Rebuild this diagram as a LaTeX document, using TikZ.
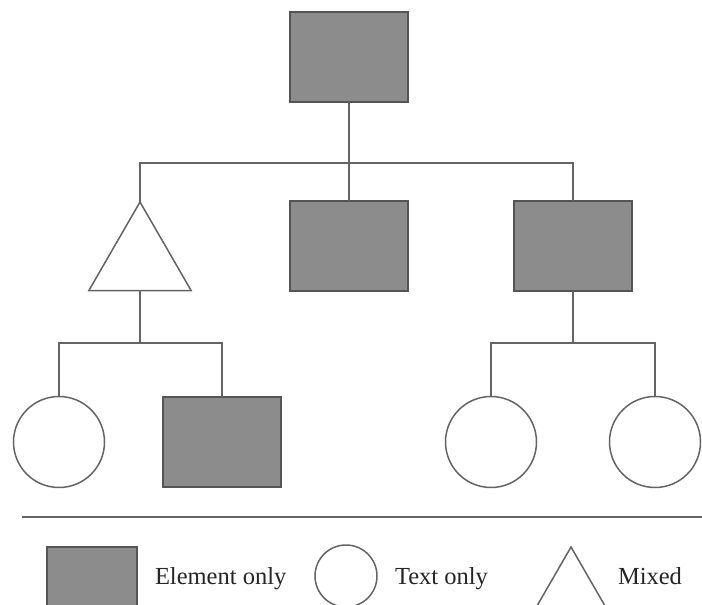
\documentclass[tikz,border=0pt]{standalone}
\usepackage{fontspec}
\setmainfont{Liberation Serif}
\usetikzlibrary{shapes.geometric}
\definecolor{elemfill}{RGB}{140,140,140}
\definecolor{edgegray}{RGB}{85,85,85}
\definecolor{linegray}{RGB}{100,100,100}
\begin{document}
\begin{tikzpicture}[x=0.5pt,y=-0.5pt,
  every node/.style={inner sep=0pt, outer sep=0pt},
  elembox/.style={rectangle, draw=edgegray, fill=elemfill, line width=0.75pt,
    minimum width=59pt, minimum height=45pt},
  textcirc/.style={circle, draw=linegray, fill=white, line width=0.75pt,
    minimum size=45.5pt},
  mixedtri/.style={regular polygon, regular polygon sides=3, draw=linegray,
    fill=white, line width=0.75pt, minimum size=59pt},
  link/.style={draw=linegray, line width=0.75pt},
  legendtext/.style={anchor=base west, font=\fontsize{12.25}{14}\selectfont, text=black!85}
]
\clip (0,0) rectangle (702,605);
\fill[white] (0,0) rectangle (702,605);

% tree nodes
\node[elembox]  (root)  at (349,57)  {};
\node[mixedtri] (mix)   at (140,261) {};
\node[elembox]  (mid)   at (349,246) {};
\node[elembox]  (right) at (573,246) {};
\node[textcirc] (t1)    at (59,442)  {};
\node[elembox]  (e4)    at (222,442) {};
\node[textcirc] (t2)    at (491,442) {};
\node[textcirc] (t3)    at (655,442) {};

% branch junctions
\coordinate (j1) at (349,163);
\coordinate (j2) at (140,343);
\coordinate (j3) at (573,343);

% connectors
\draw[link] (root.south) -- (j1);
\draw[link] (j1) -- (mid.north);
\draw[link] (mix.corner 1) |- (j1) -| (right.north);
\draw[link] (mix.south) -- (j2);
\draw[link] (t1.north) |- (j2) -| (e4.north);
\draw[link] (right.south) -- (j3);
\draw[link] (t2.north) |- (j3) -| (t3.north);

% separator above the key
\coordinate (sepL) at (22,517);
\coordinate (sepR) at (702,517);
\draw[link] (sepL) -- (sepR);

% key
\node[elembox, minimum width=45pt] (kbox) at (92,592) {};
\node[legendtext] (klab1) at (155,584) {Element only};
\node[circle, draw=linegray, line width=0.75pt, minimum size=31pt] (kcirc) at (346,576) {};
\node[legendtext] (klab2) at (395,584) {Text only};
\node[mixedtri] (ktri) at (571,606) {};
\node[legendtext] (klab3) at (618,584) {Mixed};
\end{tikzpicture}
\end{document}
